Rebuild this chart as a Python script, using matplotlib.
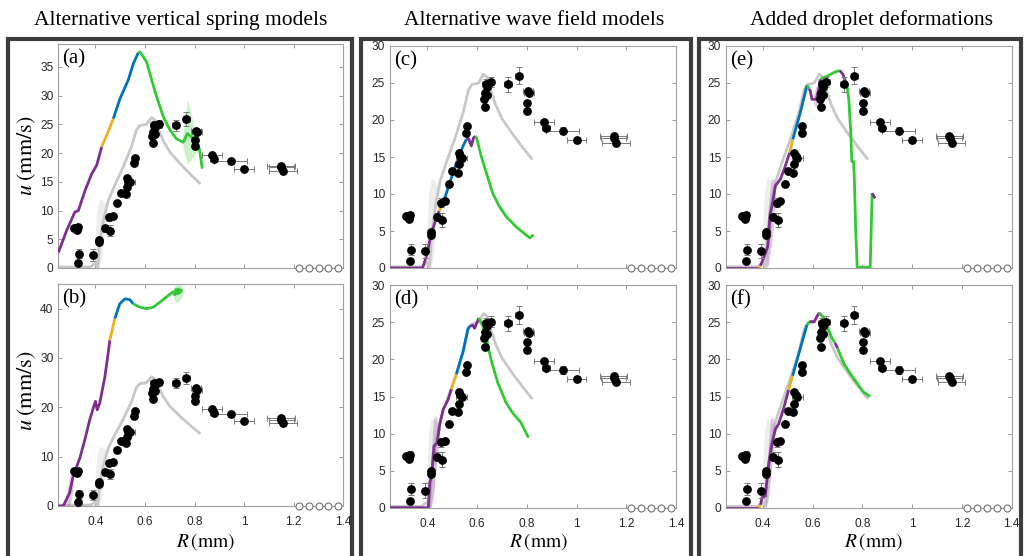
import matplotlib
matplotlib.use("Agg")
import matplotlib.pyplot as plt
from matplotlib.lines import Line2D
from matplotlib.transforms import ScaledTranslation
import numpy as np

plt.rcParams['mathtext.fontset'] = 'stix'

# ---------------- data ----------------
panel_titles = ["Alternative vertical spring models", "Alternative wave field models",
                "Added droplet deformations"]
panel_letters = ["(a)", "(b)", "(c)", "(d)", "(e)", "(f)"]
x_ticks = [0.4, 0.6, 0.8, 1.0, 1.2, 1.4]
x_ticklabels = ["0.4", "0.6", "0.8", "1", "1.2", "1.4"]

# experimental walking speeds
exp_R = [0.315, 0.322, 0.327, 0.330, 0.334, 0.330, 0.391, 0.414, 0.414, 0.440, 0.460,
         0.455, 0.470, 0.487, 0.501, 0.522, 0.526, 0.526, 0.531, 0.538, 0.558, 0.557,
         0.636, 0.655, 0.640, 0.632, 0.629, 0.641, 0.633, 0.724, 0.767, 0.806, 0.810,
         0.801, 0.802, 0.870, 0.877, 0.945, 1.000, 1.149, 1.150, 1.158]
exp_u = [7.0, 6.9, 6.6, 7.1, 2.5, 0.9, 2.3, 4.9, 4.5, 6.9, 6.5,
         8.8, 9.0, 11.3, 13.1, 12.85, 15.6, 14.05, 15.2, 14.9, 19.2, 18.3,
         24.9, 25.1, 24.5, 23.7, 22.9, 23.4, 21.7, 24.85, 26.0, 23.9, 23.6,
         22.3, 21.25, 19.75, 18.9, 18.55, 17.3, 17.8, 17.5, 16.9]
exp_xerr = [0, 0, 0, 0, 0, 0, 0, 0, 0, 0, 0,
            0, 0, 0, 0, 0, 0, 0, 0, 0.022, 0, 0,
            0.015, 0.015, 0, 0, 0, 0, 0, 0.015, 0.015, 0.02, 0.02,
            0.01, 0.01, 0.04, 0.015, 0.066, 0.04, 0.055, 0.05, 0.056]
exp_yerr = [0, 0, 0, 0.5, 0.8, 0, 1.0, 0, 0, 0.6, 1.0,
            0.6, 0, 0, 0, 0, 0, 0, 0, 0, 0, 0,
            0.7, 0.7, 0, 0, 0, 0, 0, 1.0, 1.2, 0, 0,
            0, 0, 0, 0, 0.5, 0.4, 0, 0, 0]
# non-walking (bouncing) droplets
bounce_R = [1.22, 1.26, 1.30, 1.34, 1.38]
bounce_u = [0, 0, 0, 0, 0]

# reference (baseline) model, grey
gray_R = [0.25, 0.378, 0.398, 0.409, 0.418, 0.432, 0.452, 0.478, 0.512, 0.545, 0.565,
          0.579, 0.606, 0.626, 0.640, 0.653, 0.673, 0.700, 0.741, 0.781, 0.819]
gray_u = [0.17, 0.17, 0.75, 0.2, 4.8, 8.3, 11.8, 14.4, 17.6, 21.1, 24.0,
          24.8, 25.0, 26.2, 25.8, 24.3, 22.2, 20.2, 18.2, 16.4, 14.8]
gray_band_R = [0.395, 0.405, 0.415, 0.425, 0.435, 0.443]
gray_band_lo = [0, 0, 0, 2, 6, 9]
gray_band_hi = [3, 10, 12, 12, 11.5, 11]

# model curves; segment colour codes: p purple, o orange, b blue, g green
a_R = [0.25, 0.284, 0.317, 0.331, 0.358, 0.385, 0.405, 0.425, 0.450, 0.472, 0.499, 0.532,
       0.553, 0.573, 0.580, 0.606, 0.627, 0.647, 0.674, 0.701, 0.727, 0.754, 0.771, 0.788,
       0.808, 0.819, 0.831]
a_u = [2.67, 6.56, 9.75, 10.0, 13.5, 16.4, 17.9, 21.1, 23.6, 26.0, 29.5, 32.7,
       35.6, 37.5, 37.6, 35.9, 32.7, 29.8, 26.3, 24.0, 22.5, 21.9, 23.4, 22.8,
       21.6, 20.8, 17.3]
a_col = "ppppppp" + "oo" + "bbbb" + "ggggggggggggg"

b_R = [0.25, 0.27, 0.296, 0.31, 0.337, 0.357, 0.377, 0.395, 0.400, 0.407, 0.417, 0.438,
       0.451, 0.458, 0.478, 0.498, 0.519, 0.539, 0.552, 0.579, 0.606, 0.633, 0.660, 0.687,
       0.713, 0.720, 0.725, 0.730, 0.735, 0.740, 0.745, 0.749]
b_u = [0, 0, 2.7, 6.05, 9.75, 13.4, 17.5, 20.5, 21.2, 19.5, 20.8, 26.2,
       30.9, 33.6, 38.0, 41.0, 42.0, 41.8, 41.0, 40.3, 40.0, 40.3, 41.3, 42.4,
       43.4, 42.8, 43.9, 43.0, 44.0, 43.2, 43.8, 43.5]
b_col = "ppppppppppppp" + "o" + "bbbb" + "ggggggggggggg"

c_R = [0.25, 0.381, 0.4, 0.413, 0.431, 0.448, 0.464, 0.490, 0.517, 0.544, 0.557,
       0.566, 0.577, 0.586, 0.593, 0.597, 0.617, 0.637, 0.663, 0.690, 0.716, 0.756,
       0.796, 0.813, 0.827]
c_u = [0, 0, 2.0, 4.3, 6.2, 7.7, 8.8, 11.5, 14.2, 16.5, 17.4,
       17.5, 16.5, 17.6, 17.8, 17.7, 15.1, 12.9, 10.1, 8.3, 7.0, 5.6,
       4.5, 4.06, 4.5]
c_col = "ppppp" + "o" + "bbbb" + "pppp" + "gggggggggg"

d_R = [0.25, 0.404, 0.41, 0.417, 0.427, 0.44, 0.45, 0.464, 0.484, 0.497, 0.517,
       0.544, 0.563, 0.570, 0.583, 0.590, 0.600, 0.607, 0.623, 0.637, 0.656, 0.683,
       0.716, 0.743, 0.776, 0.807]
d_u = [0, 0, 3.4, 4.3, 8.3, 8.8, 11.2, 13.3, 14.6, 16.0, 18.0,
       21.1, 24.1, 24.5, 24.6, 24.2, 25.0, 25.6, 24.5, 22.9, 20.0, 16.9,
       14.2, 12.8, 11.5, 9.45]
d_col = "ppppppppp" + "o" + "bbb" + "pppp" + "gggggggg"

e_R = [0.25, 0.383, 0.39, 0.405, 0.419, 0.429, 0.436, 0.45, 0.47, 0.49, 0.507, 0.52,
       0.55, 0.577, 0.586, 0.59, 0.597, 0.614, 0.624, 0.63, 0.657, 0.684, 0.708,
       0.721, 0.731, 0.737, 0.745, 0.753, 0.757, 0.764, 0.767, 0.773, 0.779, 0.831,
       0.839, 0.851]
e_u = [0, 0, 0.3, 1.6, 2.9, 7.4, 8.3, 11.1, 12.0, 13.8, 15.6, 17.4,
       21.0, 24.7, 24.2, 23.9, 22.8, 22.8, 24.1, 25.5, 25.9, 26.4, 26.7,
       26.2, 25.3, 24.8, 22.8, 18.3, 14.4, 14.4, 12.4, 4.7, 0.1, 0.1,
       10.1, 9.4]
e_col = "p" + "o" + "pppppppp" + "o" + "bb" + "g" + "ppppp" + "ggg" + "pp" + "gggggggggg" + "p"

f_R = [0.25, 0.383, 0.39, 0.396, 0.409, 0.423, 0.436, 0.45, 0.463, 0.483, 0.503, 0.519,
       0.55, 0.577, 0.586, 0.606, 0.617, 0.626, 0.644, 0.657, 0.677, 0.69, 0.70,
       0.724, 0.751, 0.778, 0.804, 0.831]
f_u = [0, 0, 0.4, 1.4, 1.6, 5.9, 8.6, 10.6, 11.3, 13.4, 15.9, 17.8,
       21.5, 24.7, 25.1, 25.1, 25.8, 26.3, 25.6, 24.5, 22.9, 22.2, 21.5,
       19.5, 18.1, 16.8, 15.6, 15.0]
f_col = "p" + "o" + "pppppppp" + "o" + "bb" + "g" + "ppp" + "gggg" + "p" + "ggggg"

# uncertainty bands of the model curves
a_band_R = [0.752, 0.762, 0.772, 0.785, 0.800, 0.815]
a_band_lo = [21.5, 19.5, 18.2, 18.8, 19.8, 20.5]
a_band_hi = [22.5, 26.5, 29.3, 27.0, 24.0, 21.5]
b_band_R = [0.715, 0.725, 0.735, 0.745, 0.752]
b_band_lo = [42.0, 41.2, 41.5, 42.0, 42.8]
b_band_hi = [44.0, 45.0, 45.0, 45.0, 44.0]
b_pband_R = [0.28, 0.29, 0.30, 0.31]
b_pband_lo = [0, 0, 0.5, 3.5]
b_pband_hi = [1.5, 4.5, 6.5, 7.5]
d_pband_R = [0.405, 0.415, 0.425, 0.435, 0.445]
d_pband_lo = [0, 0, 1.5, 5.0, 8.0]
d_pband_hi = [2.0, 7.0, 12.0, 12.5, 11.0]
e_pband_R = [0.413, 0.423, 0.433, 0.443, 0.45]
e_pband_lo = [0, 0.5, 3.0, 6.0, 9.0]
e_pband_hi = [4.0, 9.0, 12.0, 12.0, 11.5]
e_pband2_R = [0.605, 0.612, 0.62, 0.627]
e_pband2_lo = [22.0, 21.8, 22.0, 23.0]
e_pband2_hi = [23.5, 24.5, 24.5, 24.5]
f_pband_R = [0.41, 0.42, 0.43, 0.44, 0.445]
f_pband_lo = [0, 1.0, 4.0, 7.0, 9.0]
f_pband_hi = [3.0, 8.0, 12.0, 12.2, 11.5]

y_limits = [39, 45, 30, 30, 30, 30]
y_ticks = [np.arange(0, 36, 5), np.arange(0, 41, 10), np.arange(0, 31, 5),
           np.arange(0, 31, 5), np.arange(0, 31, 5), np.arange(0, 31, 5)]

# ---------------- style ----------------
COL = {'p': '#7E2F8E', 'o': '#EDB120', 'b': '#0072BD', 'g': '#33C933'}
W, H = 1024, 556
fig = plt.figure(figsize=(W / 100, H / 100), dpi=100)
fig.patch.set_facecolor('white')

SERIF = 'Liberation Serif'
SANS = 'Liberation Sans'


def px_axes(l, t, r, b):
    return fig.add_axes([l / W, 1 - b / H, (r - l) / W, (b - t) / H])


boxes = [(58.3, 44, 343.3, 268), (58.3, 284, 343.3, 506),
         (390, 46, 676, 268), (390, 285.3, 676, 507.7),
         (725.7, 46, 1011.7, 268), (725.7, 285.3, 1011.7, 507.7)]

curves = [(a_R, a_u, a_col), (b_R, b_u, b_col), (c_R, c_u, c_col),
          (d_R, d_u, d_col), (e_R, e_u, e_col), (f_R, f_u, f_col)]

bands = {
    0: [(a_band_R, a_band_lo, a_band_hi, COL['g'])],
    1: [(b_band_R, b_band_lo, b_band_hi, COL['g']), (b_pband_R, b_pband_lo, b_pband_hi, COL['p'])],
    3: [(d_pband_R, d_pband_lo, d_pband_hi, COL['p'])],
    4: [(e_pband_R, e_pband_lo, e_pband_hi, COL['p']), (e_pband2_R, e_pband2_lo, e_pband2_hi, COL['p'])],
    5: [(f_pband_R, f_pband_lo, f_pband_hi, COL['p'])],
}


def draw_segmented(ax, R, u, codes):
    i = 0
    n = len(codes)
    while i < n:
        j = i
        while j + 1 < n and codes[j + 1] == codes[i]:
            j += 1
        ax.plot(R[i:j + 2], u[i:j + 2], color=COL[codes[i]], lw=2.0,
                solid_capstyle='butt', solid_joinstyle='round', zorder=3)
        i = j + 1


for k, box in enumerate(boxes):
    ax = px_axes(*box)
    ax.set_xlim(0.25, 1.4)
    ax.set_ylim(0, y_limits[k])
    # gray reference curve + band
    ax.fill_between(gray_band_R, gray_band_lo, gray_band_hi, color='#d8d8d8',
                    alpha=0.45, lw=0, zorder=1)
    ax.plot(gray_R, gray_u, color='#c8c8c8', lw=2.0, zorder=2)
    for (bR, blo, bhi, bc) in bands.get(k, []):
        ax.fill_between(bR, blo, bhi, color=bc, alpha=0.25, lw=0, zorder=2)
    R, u, codes = curves[k]
    draw_segmented(ax, R, u, codes)
    # experimental data
    ax.errorbar(exp_R, exp_u, xerr=exp_xerr, yerr=exp_yerr, fmt='none',
                ecolor='#7a7a7a', elinewidth=0.7, capsize=2, capthick=0.7, zorder=4)
    ax.plot(exp_R, exp_u, 'o', color='black', ms=5.3, zorder=5)
    ax.plot(bounce_R, bounce_u, 'o', mfc='white', mec='#707070', mew=0.8, ms=5,
            zorder=5, clip_on=False)

    ax.set_xticks(x_ticks)
    ax.set_yticks(y_ticks[k])
    if k % 2 == 1:
        ax.set_xticklabels(x_ticklabels)
    else:
        ax.set_xticklabels([])
    ax.set_yticklabels([f"{int(v)}" for v in y_ticks[k]])
    ax.tick_params(direction='in', length=3, width=0.6, color='#8c8c8c',
                   top=True, right=True, labelsize=8.6, labelcolor='#262626')
    ax.tick_params(axis='x', pad=7.5)
    ax.tick_params(axis='y', pad=3.5)
    for lab in ax.get_xticklabels() + ax.get_yticklabels():
        lab.set_fontfamily(SANS)
    for sp in ax.spines.values():
        sp.set_color('#a0a0a0')
        sp.set_linewidth(0.8)
    # panel letter
    off = ScaledTranslation(4 / 100, -5 / 100, fig.dpi_scale_trans)
    ax.text(0, 1, panel_letters[k], transform=ax.transAxes + off, ha='left', va='top',
            fontsize=15, fontfamily=SERIF, zorder=6)
    # x labels
    if k % 2 == 1:
        cx = (box[0] + box[2]) / 2 + 5
        fig.text(cx / W, 1 - 547 / H, r'$R\,(\mathrm{mm})$', ha='center',
                 va='baseline', fontsize=14)

# y labels
for (cy) in [(44 + 268) / 2, 391]:
    fig.text(27 / W, 1 - cy / H, r'$u\;(\mathrm{mm/s})$', ha='center', va='center',
             rotation=90, fontsize=16)

# titles
for cx, t in zip([181, 534, 872], panel_titles):
    fig.text(cx / W, 1 - 25 / H, t, ha='center', va='baseline', fontsize=15.5,
             fontfamily=SERIF)

# framing boxes (open at the bottom)
for (l, r) in [(8, 352), (361, 691), (699, 1021)]:
    fig.add_artist(Line2D([l / W, l / W, r / W, r / W], [-0.1, 1 - 39 / H, 1 - 39 / H, -0.1],
                          transform=fig.transFigure, color='#3c3c3c', lw=3.0,
                          solid_joinstyle='miter'))

fig.savefig('out.png', dpi=100)
